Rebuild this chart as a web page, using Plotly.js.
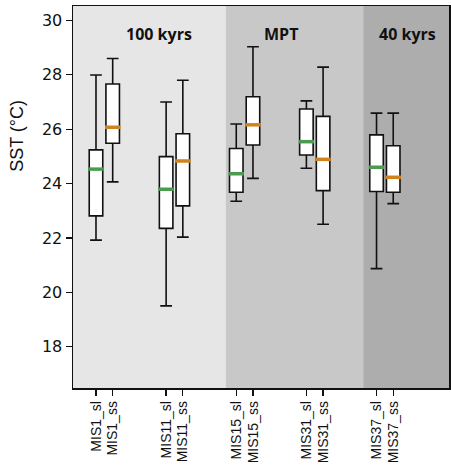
<!DOCTYPE html>
<html>
<head>
<script src="https://cdn.plot.ly/plotly-3.0.1.min.js"></script>
<style>html,body{margin:0;padding:0;background:#fff;}</style>
</head>
<body>
<div id="chart" style="width:451px;height:465px;"></div>
<script>
// Data (SST °C)
const groups = ["MIS1", "MIS11", "MIS15", "MIS31", "MIS37"];
const slLower  = [21.92, 19.50, 23.35, 24.56, 20.87];
const slQ1     = [22.81, 22.35, 23.68, 25.05, 23.71];
const slMedian = [24.53, 23.79, 24.36, 25.54, 24.60];
const slQ3     = [25.24, 24.99, 25.29, 26.74, 25.79];
const slUpper  = [27.99, 27.00, 26.19, 27.04, 26.59];

const ssLower  = [24.06, 22.03, 24.19, 22.50, 23.26];
const ssQ1     = [25.48, 23.18, 25.42, 23.74, 23.68];
const ssMedian = [26.07, 24.83, 26.16, 24.89, 24.23];
const ssQ3     = [27.66, 25.83, 27.19, 26.47, 25.39];
const ssUpper  = [28.60, 27.80, 29.03, 28.28, 26.59];

const regionLabels = ["100 kyrs", "MPT", "40 kyrs"];

// positions
const step = 4.2;
const xsl = groups.map((g, i) => i * step);
const xss = groups.map((g, i) => i * step + 1);
const tickvals = [], ticktext = [];
groups.forEach((g, i) => { tickvals.push(xsl[i], xss[i]); ticktext.push(g + "_sl", g + "_ss"); });

const boxStyle = {
  type: "box", width: 0.81, whiskerwidth: 0.87,
  fillcolor: "#ffffff", line: {color: "#111111", width: 1.6},
  hoverinfo: "skip", showlegend: false, boxpoints: false
};
const traces = [
  Object.assign({}, boxStyle, {x: xsl, q1: slQ1, median: slMedian, q3: slQ3, lowerfence: slLower, upperfence: slUpper}),
  Object.assign({}, boxStyle, {x: xss, q1: ssQ1, median: ssMedian, q3: ssQ3, lowerfence: ssLower, upperfence: ssUpper}),
  {type: "scatter", mode: "markers", x: xsl, y: slMedian, showlegend: false, hoverinfo: "skip",
   marker: {symbol: "line-ew", size: 11, color: "#4a9a4f", line: {color: "#4a9a4f", width: 3.5}}},
  {type: "scatter", mode: "markers", x: xss, y: ssMedian, showlegend: false, hoverinfo: "skip",
   marker: {symbol: "line-ew", size: 11, color: "#d0821e", line: {color: "#d0821e", width: 3.5}}}
];

const xmin = -1.377, xmax = 21.14;
const b1 = 7.77, b2 = 16.0;
const tickFont = "DejaVu Sans, Liberation Sans, sans-serif";
const layout = {
  width: 451, height: 465,
  margin: {l: 73, r: 2, t: 6, b: 77},
  paper_bgcolor: "#ffffff", plot_bgcolor: "#ffffff",
  boxmode: "overlay",
  font: {family: tickFont, color: "#111"},
  xaxis: {
    range: [xmin, xmax], tickvals: tickvals, ticktext: ticktext, tickangle: -90,
    ticks: "outside", ticklen: 6, tickwidth: 1.3, tickcolor: "#111",
    showgrid: false, zeroline: false, showline: true, linecolor: "#111", linewidth: 1.5, mirror: true,
    tickfont: {family: "Liberation Sans, Arial, sans-serif", size: 14, color: "#111"}
  },
  yaxis: {
    range: [16.48, 30.53], tickvals: [18, 20, 22, 24, 26, 28, 30],
    ticks: "outside", ticklen: 6, tickwidth: 1.3, tickcolor: "#111",
    showgrid: false, zeroline: false, showline: true, linecolor: "#111", linewidth: 1.5, mirror: true,
    tickfont: {family: tickFont, size: 16, color: "#111"}
  },
  shapes: [
    {type: "rect", xref: "x", yref: "paper", x0: xmin, x1: b1, y0: 0, y1: 1, fillcolor: "#e6e6e6", line: {width: 0}, layer: "below"},
    {type: "rect", xref: "x", yref: "paper", x0: b1, x1: b2, y0: 0, y1: 1, fillcolor: "#c8c8c8", line: {width: 0}, layer: "below"},
    {type: "rect", xref: "x", yref: "paper", x0: b2, x1: xmax, y0: 0, y1: 1, fillcolor: "#adadad", line: {width: 0}, layer: "below"}
  ],
  annotations: [
    {text: "<b>" + regionLabels[0] + "</b>", xref: "x", yref: "paper", x: 3.77, y: 0.962, showarrow: false, font: {family: "Open Sans, sans-serif", size: 16, color: "#111"}},
    {text: "<b>" + regionLabels[1] + "</b>", xref: "x", yref: "paper", x: 11.05, y: 0.962, showarrow: false, font: {family: "Open Sans, sans-serif", size: 16, color: "#111"}},
    {text: "<b>" + regionLabels[2] + "</b>", xref: "x", yref: "paper", x: 18.68, y: 0.962, showarrow: false, font: {family: "Open Sans, sans-serif", size: 16, color: "#111"}},
    {text: "SST (°C)", xref: "paper", yref: "paper", x: -0.149, y: 0.66, xanchor: "center", yanchor: "middle", textangle: -90, showarrow: false, font: {family: "Liberation Sans, Arial, sans-serif", size: 18, color: "#111"}}
  ]
};
Plotly.newPlot("chart", traces, layout, {displayModeBar: false, staticPlot: true});
</script>
</body>
</html>
